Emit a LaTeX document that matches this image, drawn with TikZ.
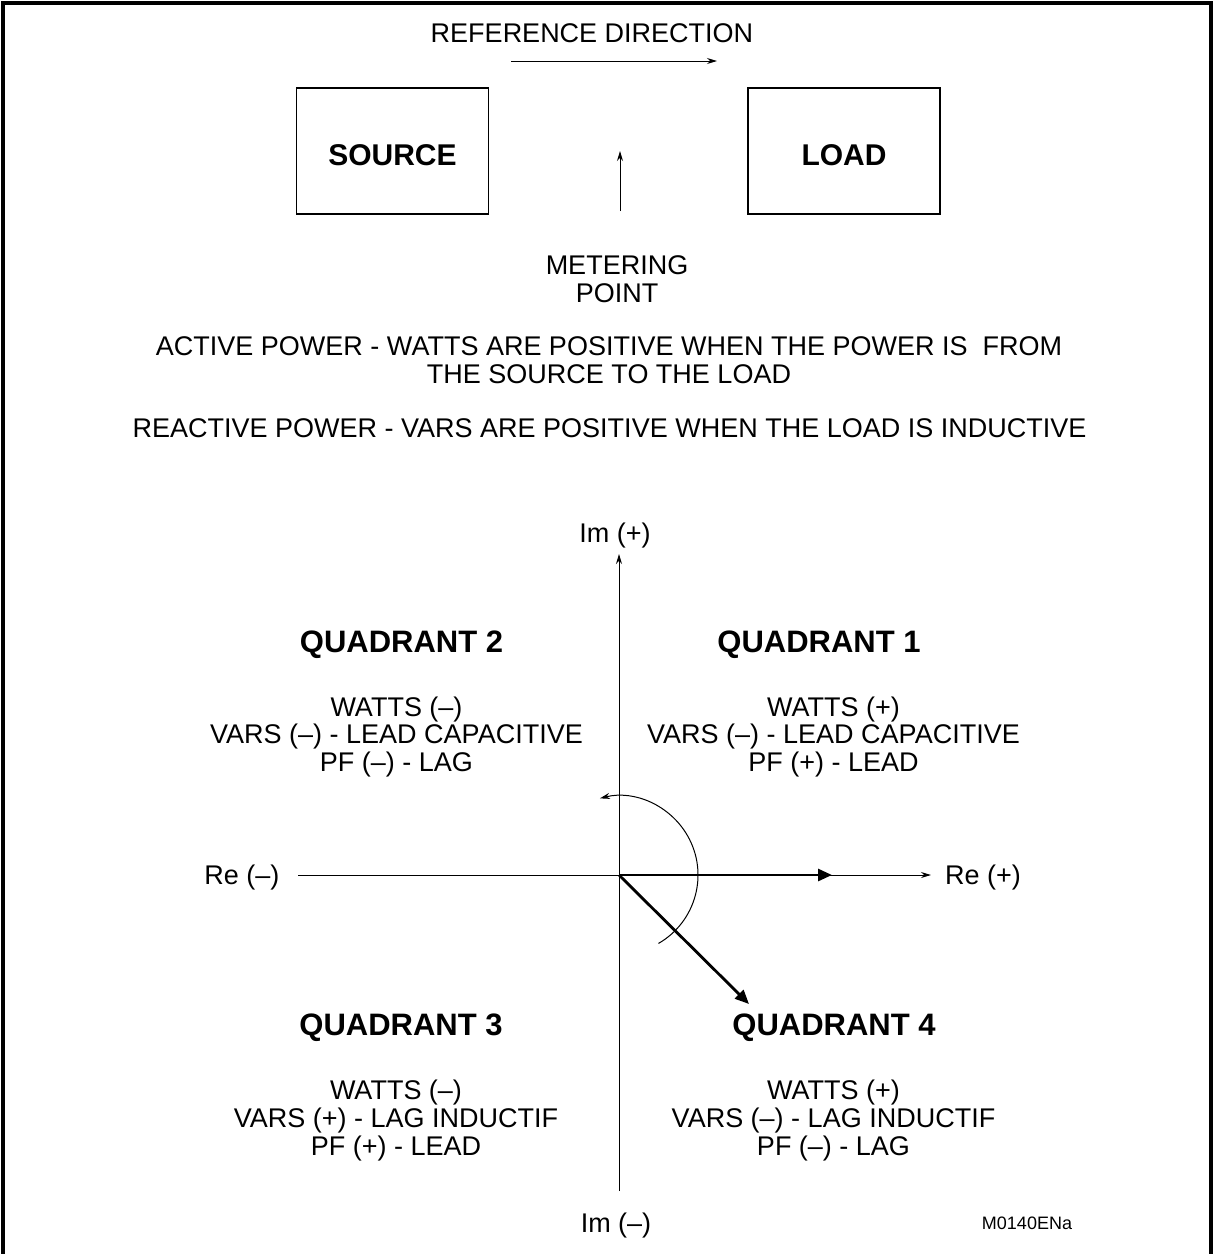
\documentclass[tikz,border=0pt]{standalone}
\usepackage{fontspec}
\setmainfont{Liberation Sans}
\usetikzlibrary{arrows.meta,positioning}

\begin{document}
\begin{tikzpicture}[x=0.5pt, y=-0.5pt,
  txt/.style={font=\fontsize{13.5}{14}\selectfont, align=center, inner sep=0pt},
  hdr/.style={font=\fontsize{15.5}{18}\selectfont\bfseries, inner sep=0pt},
  blockbox/.style={draw, line width=0.6pt, minimum width=96pt, minimum height=63pt, font=\fontsize{15}{18}\selectfont\bfseries},
  thin arrow/.style={-{Stealth[length=5pt, width=3pt]}, line width=0.5pt},
  phasor/.style={-{Triangle[length=7pt, width=6pt]}, line width=1.4pt}]
\useasboundingbox (0,0) rectangle (1214,1254);
\draw[line width=2pt] (3,1254) -- (3,3) -- (1211,3) -- (1211,1254);

% source and load
\node[txt] (refdir) at (592,33) {REFERENCE DIRECTION};
\coordinate (ref a) at (511,61);
\coordinate (ref b) at (717,61);
\draw[thin arrow] (ref a) -- (ref b);
\node[blockbox] (source) at (392.5,151) {\raisebox{-7pt}[0pt][0pt]{SOURCE}};
\node[blockbox] (load) at (844,151) {\raisebox{-7pt}[0pt][0pt]{LOAD}};
\node[txt] (meter) at (617,279) {METERING\\POINT};
\coordinate (meter a) at (620,211);
\coordinate (meter b) at (620,151);
\draw[thin arrow] (meter a) -- (meter b);

\node[txt] (active) at (609,360) {ACTIVE POWER - WATTS ARE POSITIVE WHEN THE POWER IS\ \ FROM\\THE SOURCE TO THE LOAD};
\node[txt] (reactive) at (609.5,428) {REACTIVE POWER - VARS ARE POSITIVE WHEN THE LOAD IS INDUCTIVE};

% axes
\coordinate (o) at (619,875);
\coordinate (im top) at (619,554);
\coordinate (im bot) at (619,1191);
\coordinate (re left) at (298,875);
\coordinate (re right) at (931,875);
\draw[thin arrow] (im bot) -- (im top);
\draw[thin arrow] (re left) -- (re right);
\node[txt] (im plus) at (615,536) {Im (+)};
\node[txt] (im minus) at (616,1225) {Im (–)};
\node[txt] (re minus) at (242,878) {Re (–)};
\node[txt] (re plus) at (983,878) {Re (+)};

% phasors
\coordinate (p re) at (832,875);
\coordinate (p s) at (749,1004);
\draw[phasor] (o) -- (p re);
\draw[phasor] (o) -- (p s);
\draw[thin arrow] (o) ++(60:79) arc[start angle=60, end angle=-104, radius=79];

% quadrants
\node[hdr] (q1) at (819,645) {QUADRANT 1};
\node[hdr] (q2) at (401.5,645) {QUADRANT 2};
\node[hdr] (q3) at (401,1028) {QUADRANT 3};
\node[hdr] (q4) at (834,1028) {QUADRANT 4};
\node[txt] (q1 txt) at (833.5,737) {WATTS (+)\\VARS (–) - LEAD CAPACITIVE\\PF (+) - LEAD};
\node[txt] (q2 txt) at (396.5,737) {WATTS (–)\\VARS (–) - LEAD CAPACITIVE\\PF (–) - LAG};
\node[txt] (q3 txt) at (396,1120) {WATTS (–)\\VARS (+) - LAG INDUCTIF\\PF (+) - LEAD};
\node[txt] (q4 txt) at (833.5,1120) {WATTS (+)\\VARS (–) - LAG INDUCTIF\\PF (–) - LAG};

\node[txt, font=\fontsize{9}{10}\selectfont] (code) at (1027,1223) {M0140ENa};
\end{tikzpicture}
\end{document}
